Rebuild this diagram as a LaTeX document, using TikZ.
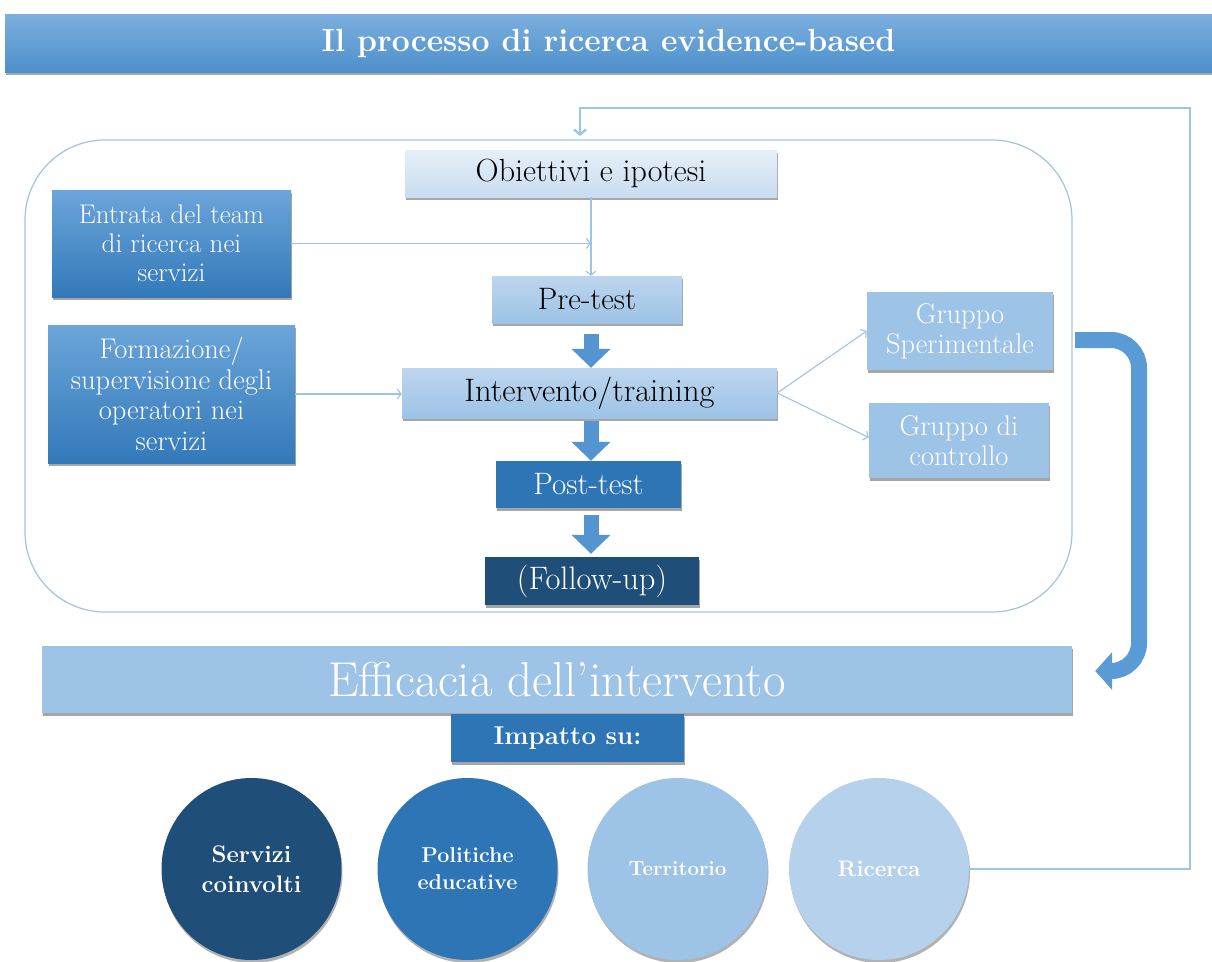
\documentclass[tikz,border=0pt]{standalone}
\usepackage{fontspec}
\usetikzlibrary{arrows.meta,shadows,shapes.geometric}
\definecolor{navy}{HTML}{1F4E79}
\definecolor{midblue}{HTML}{2E75B6}
\definecolor{paleblue}{HTML}{9DC3E6}
\definecolor{lightblue}{HTML}{B6D1EC}
\definecolor{lineblue}{HTML}{9DC3E6}
\definecolor{arrowblue}{HTML}{5B9BD5}
\begin{document}
\begin{tikzpicture}[x=1pt,y=-1pt,
  shad/.style={drop shadow={shadow xshift=1pt,shadow yshift=-3pt,opacity=.35,fill=black}},
  box/.style={rectangle,inner sep=0pt,align=center,shad},
  bluebox/.style={box,top color=arrowblue!90!white,bottom color=midblue!90!arrowblue,text=white},
  flatbox/.style={box,fill=#1,text=white},
  circ/.style={ellipse,inner sep=0pt,align=center,fill=#1,text=white,minimum width=180pt,minimum height=182pt,
     drop shadow={shadow xshift=1pt,shadow yshift=-3pt,opacity=.3,fill=black}},
  conn/.style={draw=lineblue,line width=1.1pt,-{Straight Barb[length=4pt,width=10pt]}},
  fat/.style={draw=arrowblue!85!midblue,line width=15pt,-{Triangle[width=38pt,length=19pt]},shorten <=6pt},
  fb/.style={draw=lineblue,line width=2.4pt,-{Straight Barb[length=5pt,width=12pt]}},
  frame/.style={draw=lineblue,line width=1.2pt,rounded corners=80pt,rectangle,inner sep=0pt}
]
\useasboundingbox (0,0) rectangle (1212,961);

% title
\node[box,top color=arrowblue!80!white,bottom color=arrowblue!70!midblue,text=white,
  minimum width=1207pt,minimum height=58pt,font=\fontsize{32}{34}\selectfont\bfseries]
  (title) at (608.5,43) {Il processo di ricerca evidence-based};

% container
\node[frame,minimum width=1047pt,minimum height=472pt] (cont) at (548.5,376) {};

% central column
\node[box,top color=lightblue!35!white,bottom color=lightblue!75!white,text=black,
  minimum width=372pt,minimum height=47pt,font=\fontsize{32}{34}\selectfont]
  (obj) at (591,173.5) {Obiettivi e ipotesi};
\node[box,top color=lightblue!90!white,bottom color=paleblue,text=black,
  minimum width=190pt,minimum height=47pt,font=\fontsize{31}{34}\selectfont]
  (pre) at (587,299.5) {Pre-test};
\node[box,top color=lightblue!90!white,bottom color=paleblue,text=black,
  minimum width=375pt,minimum height=50pt,font=\fontsize{32.5}{34}\selectfont]
  (int) at (589.5,393) {Intervento/training};
\node[flatbox=midblue,minimum width=185pt,minimum height=47pt,font=\fontsize{31}{34}\selectfont]
  (post) at (588.5,484.5) {Post-test};
\node[flatbox=navy,minimum width=214pt,minimum height=48pt,font=\fontsize{32.5}{34}\selectfont]
  (fol) at (592,581) {(Follow-up)};

% left boxes
\node[bluebox,minimum width=239pt,minimum height=107pt,font=\fontsize{27}{29}\selectfont]
  (ent) at (171.5,243.5) {Entrata del team\\di ricerca nei\\servizi};
\node[bluebox,minimum width=247pt,minimum height=138pt,font=\fontsize{28.5}{30.5}\selectfont]
  (form) at (171.5,394) {Formazione/\\supervisione degli\\operatori nei\\servizi};

% right boxes
\node[flatbox=paleblue,minimum width=186pt,minimum height=78pt,font=\fontsize{28.5}{30}\selectfont]
  (gs) at (960,331) {Gruppo\\Sperimentale};
\node[flatbox=paleblue,minimum width=180pt,minimum height=75pt,font=\fontsize{28.5}{30}\selectfont]
  (gc) at (959,440.5) {Gruppo di\\controllo};

% efficacia / impatto
\node[flatbox=paleblue,minimum width=1030pt,minimum height=67pt,font=\fontsize{49}{52}\selectfont]
  (eff) at (557,679.5) {Efficacia dell'intervento};
\node[flatbox=midblue,minimum width=233pt,minimum height=48pt,font=\fontsize{25.8}{28}\selectfont\bfseries]
  (imp) at (567.5,738) {Impatto su:};

% circles
\node[circ=navy,font=\fontsize{24}{30}\selectfont\bfseries] (c1) at (251.5,869) {Servizi\\coinvolti};
\node[circ=midblue,font=\fontsize{21.5}{27}\selectfont\bfseries] (c2) at (467.5,869) {Politiche\\educative};
\node[circ=paleblue,font=\fontsize{20.5}{24}\selectfont\bfseries] (c3) at (677.5,869) {Territorio};
\node[circ=lightblue,font=\fontsize{22.5}{26}\selectfont\bfseries] (c4) at (879,869) {Ricerca};

% thin connectors
\coordinate (j) at (obj.south |- ent.east);
\draw[conn] (obj.south) -- (obj.south |- pre.north);
\draw[conn] (ent.east) -- (j);
\draw[conn] (form.east) -- (form.east -| int.west);
\draw[conn] (int.east) -- (gs.west);
\draw[conn] (int.east) -- ([yshift=3pt]gc.west);

% fat arrows (vertical, on the axis of the column)
\draw[fat,shorten <=11pt] (obj.south |- pre.south) -- (obj.south |- int.north);
\draw[fat,shorten <=3pt] (obj.south |- int.south) -- (obj.south |- post.north);
\draw[fat,shorten <=7pt,shorten >=3pt] (obj.south |- post.south) -- (obj.south |- fol.north);

% big curved arrow
\coordinate (bstart) at (1075,340);
\coordinate (bend) at ([xshift=23pt,yshift=8.5pt]eff.east);
\draw[draw=arrowblue,line width=16pt,rounded corners=28pt,-{Triangle[width=37pt,length=17pt]}]
  (bstart) -- (1139,340) -- (1139,671) -- (bend);

% feedback loop
\coordinate (fbtop) at (1190,108);
\coordinate (fbend) at (580,136);
\draw[fb] (c4.east) -| (fbtop) -| (fbend);
\end{tikzpicture}
\end{document}
